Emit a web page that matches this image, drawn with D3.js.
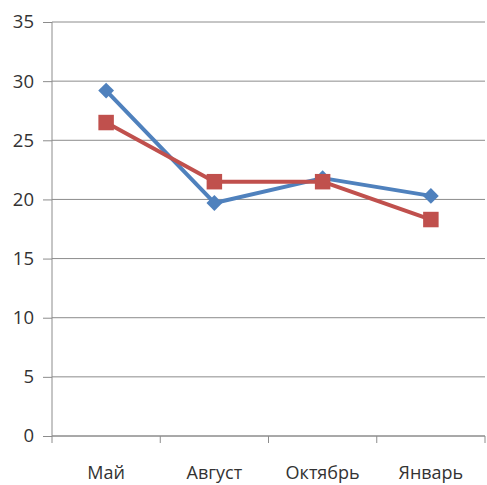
<!DOCTYPE html>
<html>
<head>
<meta charset="utf-8">
<script src="https://cdn.jsdelivr.net/npm/d3@7"></script>
<style>
  html, body { margin: 0; padding: 0; background: #fff; }
  svg { display: block; }
</style>
</head>
<body>
<svg id="chart" width="487" height="485"></svg>
<script>
const categories = ["Май", "Август", "Октябрь", "Январь"];
const seriesBlue = [29.2, 19.7, 21.8, 20.3];
const seriesRed = [26.5, 21.5, 21.5, 18.3];
const yTicks = [0, 5, 10, 15, 20, 25, 30, 35];

const width = 487, height = 485;
const margin = { top: 22, right: 2, bottom: 49, left: 52 };
const innerW = width - margin.left - margin.right;
const innerH = height - margin.top - margin.bottom;

const svg = d3.select("#chart");
const g = svg.append("g").attr("transform", `translate(${margin.left},${margin.top})`);

const x = d3.scaleBand().domain(categories).range([0, innerW]).padding(0);
const y = d3.scaleLinear().domain([0, 35]).range([innerH, 0]);

// gridlines
g.selectAll(".grid")
  .data(yTicks)
  .enter()
  .append("line")
  .attr("x1", 0)
  .attr("x2", innerW)
  .attr("y1", d => y(d))
  .attr("y2", d => y(d))
  .attr("stroke", "#8c8c8c")
  .attr("stroke-width", 1);

// y axis
g.append("g")
  .call(d3.axisLeft(y).tickValues(yTicks).tickSize(9).tickPadding(9))
  .call(a => a.select(".domain").attr("stroke", "#8c8c8c").attr("d", `M0,0V${innerH}`))
  .call(a => a.selectAll(".tick line").attr("stroke", "#8c8c8c"))
  .selectAll("text")
  .style("font-family", "'Open Sans', Lato, sans-serif")
  .style("font-size", "18.5px")
  .attr("fill", "#333");

// x axis
const xAxis = g.append("g").attr("transform", `translate(0,${innerH})`);
xAxis.append("line")
  .attr("x1", 0).attr("x2", innerW)
  .attr("stroke", "#8c8c8c");
xAxis.selectAll(".xtick")
  .data(d3.range(categories.length + 1))
  .enter()
  .append("line")
  .attr("x1", i => i * x.step())
  .attr("x2", i => i * x.step())
  .attr("y1", 0)
  .attr("y2", 7)
  .attr("stroke", "#8c8c8c");
xAxis.selectAll(".xlabel")
  .data(categories)
  .enter()
  .append("text")
  .attr("x", d => x(d) + x.bandwidth() / 2)
  .attr("y", 43)
  .attr("text-anchor", "middle")
  .style("font-family", "'Open Sans', Lato, sans-serif")
  .style("font-size", "18px")
  .attr("fill", "#333")
  .text(d => d);

const line = d3.line()
  .x((d, i) => x(categories[i]) + x.bandwidth() / 2)
  .y(d => y(d));

const drawSeries = (values, color, size, rotate) => {
  g.append("path")
    .datum(values)
    .attr("fill", "none")
    .attr("stroke", color)
    .attr("stroke-width", 4)
    .attr("stroke-linejoin", "round")
    .attr("d", line);
  g.selectAll(null)
    .data(values)
    .enter()
    .append("path")
    .attr("transform", (d, i) => `translate(${x(categories[i]) + x.bandwidth() / 2},${y(d)}) rotate(${rotate})`)
    .attr("d", d3.symbol().type(d3.symbolSquare).size(size))
    .attr("fill", color);
};

drawSeries(seriesBlue, "#4f81bd", 125, 45);
drawSeries(seriesRed, "#c0504d", 240, 0);
</script>
</body>
</html>
